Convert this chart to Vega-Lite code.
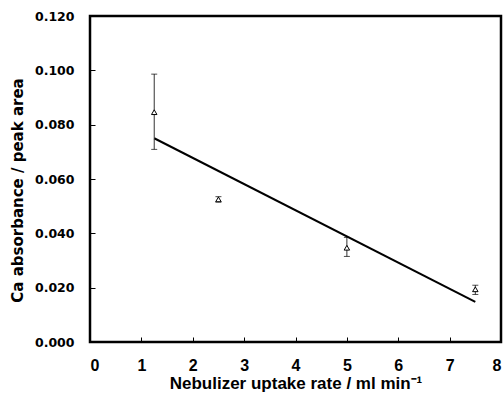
{
  "$schema": "https://vega.github.io/schema/vega-lite/v6.json",
  "width": 411,
  "height": 326,
  "autosize": {"type": "none"},
  "padding": {"left": 90, "top": 16, "right": 2, "bottom": 58},
  "background": "white",
  "config": {
    "view": {"stroke": "black", "strokeWidth": 2.5},
    "font": "Liberation Sans",
    "axis": {
      "grid": false,
      "domain": false,
      "tickColor": "black",
      "tickWidth": 1,
      "tickSize": -5,
      "labelColor": "black",
      "labelFont": "Liberation Sans",
      "labelFontWeight": "bold",
      "titleColor": "black",
      "titleFont": "Liberation Sans",
      "titleFontWeight": "bold"
    }
  },
  "datasets": {
    "pts": [
      {"rate": 1.25, "abs": 0.0846, "lo": 0.0709, "hi": 0.0986},
      {"rate": 2.5, "abs": 0.0525, "lo": 0.0515, "hi": 0.0535},
      {"rate": 5.0, "abs": 0.0347, "lo": 0.0315, "hi": 0.0385},
      {"rate": 7.5, "abs": 0.0194, "lo": 0.0175, "hi": 0.0209}
    ],
    "fit": [
      {"rate": 1.25, "abs": 0.0750},
      {"rate": 7.5, "abs": 0.0148}
    ]
  },
  "layer": [
    {
      "data": {"name": "fit"},
      "mark": {"type": "line", "color": "black", "strokeWidth": 2},
      "encoding": {
        "x": {
          "field": "rate", "type": "quantitative",
          "scale": {"domain": [0, 8], "nice": false},
          "axis": {
            "values": [0, 1, 2, 3, 4, 5, 6, 7, 8],
            "format": "d",
            "labelFontSize": 16,
            "labelPadding": 20,
            "title": "Nebulizer uptake rate / ml min⁻¹",
            "titleFontSize": 17,
            "titlePadding": 2
          }
        },
        "y": {
          "field": "abs", "type": "quantitative",
          "scale": {"domain": [0, 0.12], "nice": false},
          "axis": {
            "values": [0, 0.02, 0.04, 0.06, 0.08, 0.1, 0.12],
            "format": ".3f",
            "labelFont": "DejaVu Sans",
            "labelFontSize": 12.5,
            "labelPadding": 21,
            "title": "Ca absorbance / peak area",
            "titleFont": "DejaVu Sans",
            "titleFontSize": 15,
            "titlePadding": 9,
            "titleY": 174
          }
        }
      }
    },
    {
      "data": {"name": "pts"},
      "mark": {"type": "rule", "color": "#333333", "strokeWidth": 1},
      "encoding": {
        "x": {"field": "rate", "type": "quantitative"},
        "y": {"field": "lo", "type": "quantitative"},
        "y2": {"field": "hi"}
      }
    },
    {
      "data": {"name": "pts"},
      "mark": {"type": "tick", "orient": "horizontal", "color": "black", "size": 6, "thickness": 1},
      "encoding": {
        "x": {"field": "rate", "type": "quantitative"},
        "y": {"field": "lo", "type": "quantitative"}
      }
    },
    {
      "data": {"name": "pts"},
      "mark": {"type": "tick", "orient": "horizontal", "color": "black", "size": 6, "thickness": 1},
      "encoding": {
        "x": {"field": "rate", "type": "quantitative"},
        "y": {"field": "hi", "type": "quantitative"}
      }
    },
    {
      "data": {"name": "pts"},
      "mark": {"type": "point", "shape": "triangle-up", "filled": true, "fill": "white", "stroke": "black", "strokeWidth": 1, "size": 30, "opacity": 1},
      "encoding": {
        "x": {"field": "rate", "type": "quantitative"},
        "y": {"field": "abs", "type": "quantitative"}
      }
    }
  ]
}
